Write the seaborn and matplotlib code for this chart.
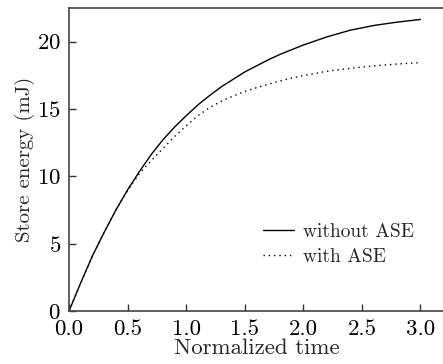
import matplotlib
matplotlib.use("Agg")
import matplotlib.pyplot as plt
import pandas as pd
import seaborn as sns

# Valeurs
time = [0, 0.1, 0.2, 0.3, 0.4, 0.5, 0.6, 0.7, 0.8, 0.9, 1.0, 1.1, 1.2, 1.3, 1.4, 1.5, 1.6,
        1.7, 1.8, 1.9, 2.0, 2.2, 2.4, 2.6, 2.8, 3.0]
energy_without_ase = [0, 2.1, 4.1, 5.85, 7.5, 9.0, 10.35, 11.6, 12.7, 13.65, 14.5, 15.3, 16.0,
                      16.65, 17.2, 17.75, 18.2, 18.65, 19.05, 19.4, 19.75, 20.35, 20.85,
                      21.2, 21.45, 21.65]
energy_with_ase = [0, 2.1, 4.1, 5.85, 7.5, 8.95, 10.2, 11.15, 12.05, 12.95, 13.75, 14.5, 15.1,
                   15.58, 15.96, 16.3, 16.58, 16.83, 17.08, 17.3, 17.48, 17.8, 18.02, 18.2,
                   18.34, 18.44]
series_labels = ["without ASE", "with ASE"]

df = pd.concat([
    pd.DataFrame({"t": time, "E": energy_without_ase, "case": series_labels[0]}),
    pd.DataFrame({"t": time, "E": energy_with_ase, "case": series_labels[1]}),
])

sns.set_style("ticks")
plt.rcParams["font.family"] = ["cmr10", "DejaVu Serif"]
plt.rcParams["axes.formatter.use_mathtext"] = True
plt.rcParams["mathtext.fontset"] = "cm"

fig = plt.figure(figsize=(4.43, 3.64), dpi=100)
ax = fig.add_axes([0.156, 0.146, 0.846, 0.832])

sns.lineplot(data=df, x="t", y="E", hue="case", style="case",
             palette={series_labels[0]: "black", series_labels[1]: "black"},
             dashes={series_labels[0]: "", series_labels[1]: (1, 2.8)},
             linewidth=1.0, ax=ax)

ax.set_xlim(0, 3.2)
ax.set_ylim(0, 22.5)
ax.set_xticks([0, 0.5, 1.0, 1.5, 2.0, 2.5, 3.0])
ax.set_xticklabels(["0.0", "0.5", "1.0", "1.5", "2.0", "2.5", "3.0"])
ax.set_yticks([0, 5, 10, 15, 20])
ax.set_xlabel("Normalized time", fontsize=16.5, labelpad=0)
ax.set_ylabel("Store energy (mJ)", fontsize=15, labelpad=1)
ax.tick_params(direction="in", length=5, width=1.0, labelsize=16.5, colors="#333333",
               labelcolor="black")
ax.tick_params(axis="x", pad=6)
ax.tick_params(axis="y", pad=6)
for side in ["left", "bottom", "top"]:
    ax.spines[side].set_color("#444444")
    ax.spines[side].set_linewidth(1.2)
ax.spines["right"].set_visible(False)

handles, labels = ax.get_legend_handles_labels()
ax.legend(handles, labels, loc="center left", bbox_to_anchor=(0.492, 0.22),
          frameon=False, fontsize=14, handlelength=1.6, handletextpad=0.45,
          borderpad=0, labelspacing=0.35)

fig.savefig("out.png", dpi=100)
